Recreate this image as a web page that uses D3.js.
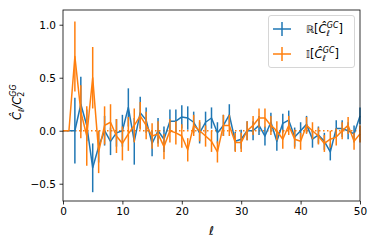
<!doctype html>
<html>
<head>
<meta charset="UTF-8">
<script src="https://d3js.org/d3.v7.min.js"></script>
<style>
  body { margin: 0; background: #fff; }
  text { font-family: "DejaVu Sans", sans-serif; }
</style>
</head>
<body>
<script>
// multipole index 0..50
var ells = d3.range(0, 51);
var realVals = [0, 0, 0, 0.25, 0.05, -0.35, -0.15, 0.0, -0.1, -0.02,
                0.0, 0.22, -0.1, 0.17, 0.1, -0.12, 0.0, -0.08, 0.09, 0.09,
                0.13, 0.12, 0.08, -0.02, 0.08, 0.12, -0.02, 0.05, 0.15, -0.1,
                -0.08, 0.0, 0.0, 0.05, -0.05, 0.08, -0.1, 0.07, 0.1, -0.06,
                0.0, 0.06, -0.08, -0.04, -0.1, -0.2, 0.02, 0.02, 0.0, -0.03,
                0.14];
var realErr = [0, 0, 0.31, 0.26, 0.15, 0.23, 0.15, 0.14, 0.13, 0.13,
               0.15, 0.18, 0.22, 0.15, 0.12, 0.12, 0.12, 0.12, 0.11, 0.11,
               0.11, 0.11, 0.1, 0.1, 0.1, 0.1, 0.1, 0.1, 0.1, 0.09,
               0.09, 0.09, 0.09, 0.09, 0.09, 0.09, 0.09, 0.09, 0.09, 0.09,
               0.08, 0.08, 0.08, 0.08, 0.08, 0.08, 0.08, 0.08, 0.08, 0.08,
               0.08];
var imagVals = [0, 0, 0.7, 0.18, -0.05, 0.5, -0.2, 0.05, 0.08, -0.05,
                -0.12, -0.03, 0.05, 0.14, 0.05, -0.05, -0.03, -0.15, 0.0, -0.02,
                -0.05, -0.18, 0.05, 0.0, -0.05, -0.1, -0.2, 0.05, 0.05, -0.11,
                -0.11, 0.0, 0.05, 0.12, 0.12, 0.05, 0.0, -0.08, 0.05, -0.08,
                -0.1, 0.05, 0.0, -0.05, -0.12, -0.08, -0.06, 0.0, 0.05, -0.1,
                -0.03];
var imagErr = [0, 0, 0.33, 0.25, 0.28, 0.29, 0.2, 0.18, 0.17, 0.16,
               0.16, 0.16, 0.16, 0.13, 0.13, 0.12, 0.12, 0.12, 0.11, 0.11,
               0.11, 0.11, 0.1, 0.1, 0.1, 0.1, 0.1, 0.1, 0.1, 0.09,
               0.09, 0.09, 0.09, 0.09, 0.09, 0.09, 0.09, 0.09, 0.09, 0.09,
               0.08, 0.08, 0.08, 0.08, 0.08, 0.08, 0.08, 0.08, 0.08, 0.08,
               0.08];
var xTicks = [0, 10, 20, 30, 40, 50];
var yTicks = [-0.5, 0.0, 0.5, 1.0];

var width = 374, height = 242;
var pLeft = 63, pRight = 360, pTop = 10, pBottom = 201;

var svg = d3.select("body").append("svg")
    .attr("width", width).attr("height", height);

var x = d3.scaleLinear().domain([0, 50]).range([pLeft, pRight]);
var y = d3.scaleLinear().domain([-0.663, 1.139]).range([pBottom, pTop]);

// zero reference line
svg.append("line")
    .attr("x1", pLeft).attr("x2", pRight)
    .attr("y1", y(0)).attr("y2", y(0))
    .attr("stroke", "#ff7f0e").attr("stroke-width", 1.5)
    .attr("stroke-dasharray", "1.5,2.5");

function drawSeries(vals, errs, color) {
    var g = svg.append("g");
    var pts = ells.map(function(d, i){ return {l: d, v: vals[i], e: errs[i]}; });
    g.selectAll("line")
        .data(pts.filter(function(d){ return d.e > 0; }))
        .enter().append("line")
        .attr("x1", function(d){ return x(d.l); })
        .attr("x2", function(d){ return x(d.l); })
        .attr("y1", function(d){ return y(d.v - d.e); })
        .attr("y2", function(d){ return y(d.v + d.e); })
        .attr("stroke", color).attr("stroke-width", 1.5);
    g.append("path")
        .datum(pts)
        .attr("d", d3.line().x(function(d){ return x(d.l); }).y(function(d){ return y(d.v); }))
        .attr("fill", "none").attr("stroke", color).attr("stroke-width", 1.5)
        .attr("stroke-linejoin", "round");
}
drawSeries(realVals, realErr, "#1f77b4");
drawSeries(imagVals, imagErr, "#ff7f0e");

// axes
var xAxis = svg.append("g").attr("transform", "translate(0," + pBottom + ")")
    .call(d3.axisBottom(x).tickValues(xTicks).tickSize(3.5).tickPadding(3.5));
var yAxis = svg.append("g").attr("transform", "translate(" + pLeft + ",0)")
    .call(d3.axisLeft(y).tickValues(yTicks).tickSize(3.5).tickPadding(3.5)
        .tickFormat(function(d){ return d3.format(".1f")(d).replace("-", "\u2212"); }));
[xAxis, yAxis].forEach(function(a){
    a.select(".domain").remove();
    a.selectAll("text").attr("font-size", 10.5).attr("fill", "#000")
        .attr("font-family", "DejaVu Sans");
    a.selectAll("line").attr("stroke", "#000").attr("stroke-width", 0.8);
});

svg.append("rect")
    .attr("x", pLeft).attr("y", pTop)
    .attr("width", pRight - pLeft).attr("height", pBottom - pTop)
    .attr("fill", "none").attr("stroke", "#000").attr("stroke-width", 0.8);

// x label
svg.append("text")
    .attr("x", (pLeft + pRight) / 2).attr("y", 235)
    .attr("text-anchor", "middle").attr("font-size", 12)
    .attr("font-style", "italic").text("\u2113");

// y label
var yl = svg.append("text")
    .attr("transform", "translate(21," + y(0.27) + ") rotate(-90)")
    .attr("text-anchor", "middle").attr("font-size", 11.5);
yl.append("tspan").attr("font-style", "italic").text("\u0108");
yl.append("tspan").attr("font-style", "italic").attr("font-size", 8).attr("dy", 2.5).text("\u2113");
yl.append("tspan").attr("dy", -2.5).attr("font-style", "italic").text("/C");
yl.append("tspan").attr("font-size", 8).attr("dy", 2.5).text("2");
yl.append("tspan").attr("font-size", 8).attr("font-style", "italic").attr("dx", -5).attr("dy", -7.5).text("GG");

// legend
var legend = svg.append("g");
legend.append("rect")
    .attr("x", 268.5).attr("y", 15.5).attr("width", 86).attr("height", 52)
    .attr("rx", 2.5).attr("fill", "#fff").attr("fill-opacity", 0.8)
    .attr("stroke", "#ccc").attr("stroke-width", 0.8);
var entries = [{c: "#1f77b4", p: "\u211D"}, {c: "#ff7f0e", p: "\uD835\uDD40"}];
legend.selectAll("g.entry")
    .data(entries)
    .enter().append("g").attr("class", "entry")
    .attr("transform", function(d, i){ return "translate(0," + (29 + i * 25) + ")"; })
    .each(function(d){
        var e = d3.select(this);
        e.append("line").attr("x1", 273).attr("x2", 291).attr("y1", 0).attr("y2", 0)
            .attr("stroke", d.c).attr("stroke-width", 1.5);
        e.append("line").attr("x1", 282).attr("x2", 282).attr("y1", -7).attr("y2", 7)
            .attr("stroke", d.c).attr("stroke-width", 1.5);
        var t = e.append("text").attr("x", 306).attr("y", 4).attr("font-size", 11.5);
        t.append("tspan").attr("font-size", 10).text(d.p);
        t.append("tspan").text("[");
        t.append("tspan").attr("font-style", "italic").text("\u0108");
        t.append("tspan").attr("font-style", "italic").attr("font-size", 8).attr("dy", 3).text("\u2113");
        t.append("tspan").attr("font-style", "italic").attr("font-size", 8).attr("dx", -3).attr("dy", -8.5).text("GC");
        t.append("tspan").attr("dy", 5.5).text("]");
    });
</script>
</body>
</html>
